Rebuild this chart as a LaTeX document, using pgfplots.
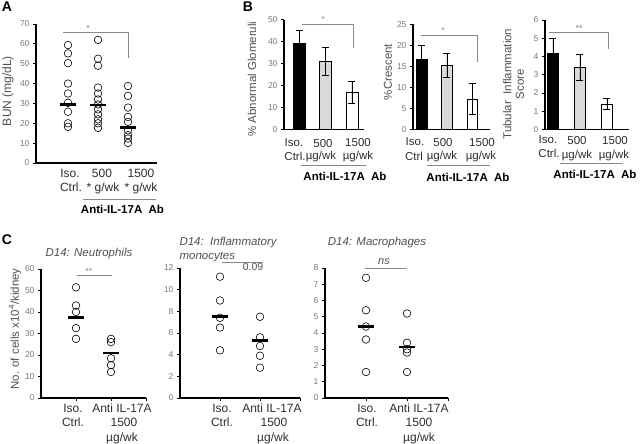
\documentclass[border=0pt]{standalone}
\usepackage{pgfplots}
\pgfplotsset{compat=1.18}
\usepackage{fontspec}
\setmainfont{Liberation Sans}
\definecolor{tickgray}{HTML}{777777}
\definecolor{labgray}{HTML}{505050}
\definecolor{brgray}{HTML}{8A8A8A}
\definecolor{txt}{HTML}{2E2E2E}
\definecolor{barlight}{HTML}{D9D9D9}
\newcommand{\fs}[1]{\fontsize{#1}{#1}\selectfont}
\pgfplotsset{
  panel/.style={
    scale only axis, anchor=south west,
    axis lines*=left,
    axis line style={line width=1.7pt, black},
    tick align=outside,
    major tick length=3pt,
    every tick/.style={black, line width=0.8pt},
    /pgf/number format/assume math mode=true,
    tick label style={font=\fs{8.5}, text=tickgray},
    clip=false,
    xtick=\empty,
    ymin=0,
  },
  dots/.style={only marks, mark=o, mark size=3.8pt, mark options={line width=0.6pt, black}, black},
  med/.style={only marks, mark=-, mark size=8pt, mark options={line width=2.6pt, black}, black},
  bars/.style={ybar, bar shift=0pt, bar width=#1, draw=black, line width=0.6pt,
     error bars/y dir=both, error bars/y explicit,
     error bars/error bar style={line width=0.7pt, black},
     error bars/error mark options={rotate=90, mark size=3.5pt, line width=0.7pt, black}},
}
\begin{document}
\begin{tikzpicture}[x=1pt,y=1pt]
\path[use as bounding box] (0,0) rectangle (640,444);

% ================= Panel A =================
\begin{axis}[panel, at={(36pt,281pt)}, width=121pt, height=139pt,
  xmin=-0.067, xmax=3.967, ymax=70, ytick={0,10,...,70}]
\addplot[dots] coordinates {
 (1,59.4)(1,55.2)(1,50.3)(1,40)(1,35)(1,30.3)(1,25.8)(1,20)(1,18.2)
 (2,62)(2,52.5)(2,49)(2,38)(2,35)(2,32)(2,29.5)(2,27)(2,24.5)(2,22)(2,20)(2,17.7)
 (3,38.8)(3,33.8)(3,27.9)(3,23.2)(3,20.7)(3,16.5)(3,14)(3,12.3)(3,10.1)};
\addplot[med] coordinates {(1,29.4)(2,29.3)(3,18)};
\end{axis}
\node[font=\bfseries\fs{14}] at (7,437) {A};
\node[rotate=90, text=labgray, font=\fs{12}] at (8,353) {BUN (mg/dL)};
\begin{scope}[every node/.style={text=txt, font=\fs{12}}]
\node at (70,271) {Iso.};
\node at (71,257) {Ctrl.};
\node at (102,271) {500};
\node at (103,256) {* g/wk};
\node at (141,271) {1500};
\node at (141,256) {* g/wk};
\end{scope}
\draw[brgray, line width=0.6pt] (83,245) -- (156,245);
\node[font=\bfseries\fs{11.5}] at (122.5,235) {Anti-IL-17A\ \ Ab};
\draw[brgray, line width=0.7pt] (63,412) -- (128,412) -- (128,386);
\node[text=brgray, font=\fs{9}] at (88,416) {*};

% ================= Panel B1 =================
\begin{axis}[panel, at={(284pt,314.5pt)}, width=80pt, height=110pt,
  xmin=0.434, xmax=3.453, ymax=50, ytick={0,10,...,50}]
\addplot[fill=black, bars=12pt] coordinates {(1,39) +- (0,6)};
\addplot[fill=barlight, bars=12pt] coordinates {(2,31) +- (0,6.5)};
\addplot[fill=white, bars=12pt] coordinates {(3,17) +- (0,5)};
\end{axis}
\node[font=\bfseries\fs{14}] at (248,437) {B};
\node[rotate=90, text=labgray, font=\fs{11.5}] at (252,365) {\% Abnormal Glomeruli};
\begin{scope}[every node/.style={text=txt, font=\fs{11.5}}]
\node at (294,301) {Iso.};
\node at (295,288) {Ctrl.};
\node at (323,300) {500};
\node at (321,287) {µg/wk};
\node at (358,301) {1500};
\node at (358,287) {µg/wk};
\end{scope}
\draw[brgray, line width=0.6pt] (301,279) -- (366,279);
\node[font=\bfseries\fs{11.5}] at (345,268) {Anti-IL-17A\ \ Ab};
\draw[brgray, line width=0.7pt] (302,420) -- (353,420) -- (353,396);
\node[text=brgray, font=\fs{9}] at (323,425) {*};

% ================= Panel B2 =================
\begin{axis}[panel, at={(413pt,314.5pt)}, width=77pt, height=105pt,
  xmin=0.655, xmax=3.71, ymax=25, ytick={0,5,...,25}]
\addplot[fill=black, bars=10.5pt] coordinates {(1,16.7) +- (0,3.3)};
\addplot[fill=barlight, bars=10.5pt] coordinates {(2,15.3) +- (0,2.8)};
\addplot[fill=white, bars=10.5pt] coordinates {(3,7.3) +- (0,3.7)};
\end{axis}
\node[rotate=90, text=labgray, font=\fs{11.5}] at (388,372) {\%Crescent};
\begin{scope}[every node/.style={text=txt, font=\fs{11.5}}]
\node at (415,302) {Iso.};
\node at (414,288) {Ctrl};
\node at (443,301) {500};
\node at (442,287) {µg/wk};
\node at (482,301) {1500};
\node at (481,287) {µg/wk};
\end{scope}
\draw[brgray, line width=0.6pt] (427,279) -- (490,279);
\node[font=\bfseries\fs{11.5}] at (468,267) {Anti-IL-17A\ \ Ab};
\draw[brgray, line width=0.7pt] (421,409) -- (477,409) -- (477,382);
\node[text=brgray, font=\fs{9}] at (443,414) {*};

% ================= Panel B3 =================
\begin{axis}[panel, at={(545pt,314.5pt)}, width=84pt, height=109.5pt,
  xmin=0.704, xmax=3.815, ymax=6, ytick={0,1,...,6}]
\addplot[fill=black, bars=10.5pt] coordinates {(1,4.2) +- (0,0.8)};
\addplot[fill=barlight, bars=10.5pt] coordinates {(2,3.4) +- (0,0.7)};
\addplot[fill=white, bars=10.5pt] coordinates {(3,1.4) +- (0,0.3)};
\end{axis}
\node[rotate=90, text=labgray, font=\fs{11.5}, align=center] at (513.5,360) {Tubular\ \ Inflammation\\[1pt]Score};
\begin{scope}[every node/.style={text=txt, font=\fs{11.5}}]
\node at (548,304) {Iso.};
\node at (549,291) {Ctrl.};
\node at (577,303) {500};
\node at (577,288) {µg/wk};
\node at (615,303) {1500};
\node at (614,288) {µg/wk};
\end{scope}
\draw[brgray, line width=0.6pt] (560,281) -- (623,281);
\node[font=\bfseries\fs{11.5}] at (595,270) {Anti-IL-17A\ \ Ab};
\draw[brgray, line width=0.7pt] (549,412) -- (608,412) -- (608,395);
\node[text=brgray, font=\fs{9}] at (579,416) {**};

% ================= Panel C1 =================
\begin{axis}[panel, at={(41pt,46pt)}, width=105pt, height=129pt,
  xmin=0, xmax=3, ymax=60, ytick={0,10,...,60}, xtick={1,2,3}, xticklabels={}]
\addplot[dots] coordinates {(1,51.5)(1,43)(1,40)(1,32.5)(1,27.5)
 (2,27.5)(2,26)(2,18.5)(2,15.3)(2,12.1)};
\addplot[med] coordinates {(1,37.5)(2,21)};
\end{axis}
\node[font=\bfseries\fs{14}] at (7,204) {C};
\node[rotate=90, text=labgray, font=\fs{11.5}] at (15,115) {No. of cells x10\textsuperscript{4}/kidney};
\node[text=labgray, font=\itshape\fs{11.5}] at (89,190) {D14: Neutrophils};
\draw[brgray, line width=0.7pt] (77,169) -- (112,169);
\node[text=brgray, font=\fs{9}] at (89,173) {**};
\begin{scope}[every node/.style={text=txt, font=\fs{12}}]
\node at (73,36) {Iso.};
\node at (73,22) {Ctrl.};
\node at (122,36) {Anti IL-17A};
\node at (124,22) {1500};
\node at (122,6) {µg/wk};
\end{scope}

% ================= Panel C2 =================
\begin{axis}[panel, at={(180pt,46pt)}, width=120pt, height=130pt,
  xmin=0, xmax=3, ymax=12, ytick={0,2,...,12}, xtick={1,2,3}, xticklabels={}]
\addplot[dots] coordinates {(1,11.2)(1,9.0)(1,7.4)(1,6.5)(1,4.4)
 (2,7.5)(2,5.6)(2,4.8)(2,3.9)(2,2.8)};
\addplot[med] coordinates {(1,7.5)(2,5.3)};
\end{axis}
\node[anchor=west, text=labgray, font=\itshape\fs{11.5}] at (176,201) {D14:\ \ Inflammatory};
\node[anchor=west, text=labgray, font=\itshape\fs{11.5}] at (176,187) {monocytes};
\draw[brgray, line width=0.8pt] (222,182) -- (263,182);
\node[text=labgray, font=\fs{10.5}] at (253,177) {0.09};
\begin{scope}[every node/.style={text=txt, font=\fs{12}}]
\node at (222,36) {Iso.};
\node at (222,22) {Ctrl.};
\node at (272,36) {Anti IL-17A};
\node at (274,22) {1500};
\node at (273,6) {µg/wk};
\end{scope}

% ================= Panel C3 =================
\begin{axis}[panel, at={(325pt,46pt)}, width=123pt, height=130pt,
  xmin=0, xmax=3, ymax=8, ytick={0,1,...,8}, xtick={1,2,3}, xticklabels={}]
\addplot[dots] coordinates {(1,7.4)(1,5.4)(1,4.4)(1,3.6)(1,1.6)
 (2,5.2)(2,3.4)(2,3.0)(2,2.8)(2,1.6)};
\addplot[med] coordinates {(1,4.4)(2,3.15)};
\end{axis}
\node[text=labgray, font=\itshape\fs{11.5}] at (377,201) {D14: Macrophages};
\draw[brgray, line width=0.8pt] (365,176) -- (407,176);
\node[text=labgray, font=\itshape\fs{11}] at (384,182) {ns};
\begin{scope}[every node/.style={text=txt, font=\fs{12}}]
\node at (367,36) {Iso.};
\node at (367,22) {Ctrl.};
\node at (419,36) {Anti IL-17A};
\node at (419,22) {1500};
\node at (419,6) {µg/wk};
\end{scope}
\end{tikzpicture}
\end{document}
